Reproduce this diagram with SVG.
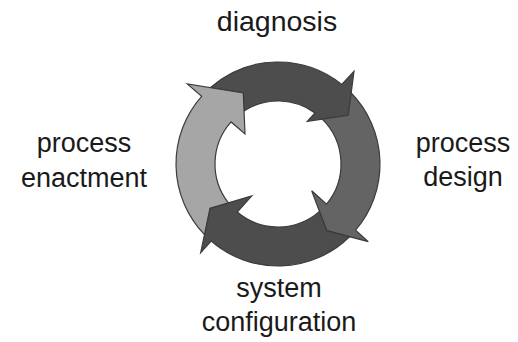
<svg xmlns="http://www.w3.org/2000/svg" width="518" height="342" viewBox="0 0 518 342">
<style>
.arrow{stroke:#3c3c3c;stroke-width:1.2;stroke-linejoin:miter}
.dark{fill:#4d4d4d}
.mid{fill:#646464}
.light{fill:#a6a6a6}
.lbl{font-family:"Liberation Sans",Arial,Helvetica,sans-serif;font-size:27px;fill:#1a1a1a;text-anchor:middle}
</style>
<rect width="518" height="342" fill="#ffffff"/>
<g id="connectors">
<path id="arrow-top" class="arrow dark" d="M210.31,87.70 A102,102 0 0 1 341.8,84.4 L354,71.3 L348.3,115.3 L307.3,121.3 L315,113 A63,63 0 0 0 244.04,110.93 L243.3,93 Z"/>
<path id="arrow-right" class="arrow mid" d="M351.19,92.96 A102,102 0 0 1 355.57,230.23 L368.3,241.7 L326.7,230.7 L311.7,190.7 L326.58,204.11 A63,63 0 0 0 322.21,119.12 L348.3,115.3 Z"/>
<path id="arrow-bottom" class="arrow dark" d="M349.51,236.73 A102,102 0 0 1 211.17,241.06 L200.7,252.7 L210,208.3 L251.7,196 L237.26,212.05 A63,63 0 0 0 319.47,211.42 L326.7,230.7 Z"/>
<path id="arrow-left" class="arrow light" d="M204.47,234.69 A102,102 0 0 1 201.62,96.41 L187.3,84 L243.3,93 L245,134 L231.09,121.95 A63,63 0 0 0 228.42,202.87 L210,208.3 Z"/>
</g>
<g id="node-diagnosis"><text class="lbl" x="277" y="31" style="font-size:28.5px">diagnosis</text></g>
<g id="node-process-design"><text class="lbl" x="463" y="152">process</text><text class="lbl" x="463" y="186">design</text></g>
<g id="node-system-configuration"><text class="lbl" x="279" y="297">system</text><text class="lbl" x="279" y="331">configuration</text></g>
<g id="node-process-enactment"><text class="lbl" x="84" y="152">process</text><text class="lbl" x="84" y="187">enactment</text></g>
</svg>
